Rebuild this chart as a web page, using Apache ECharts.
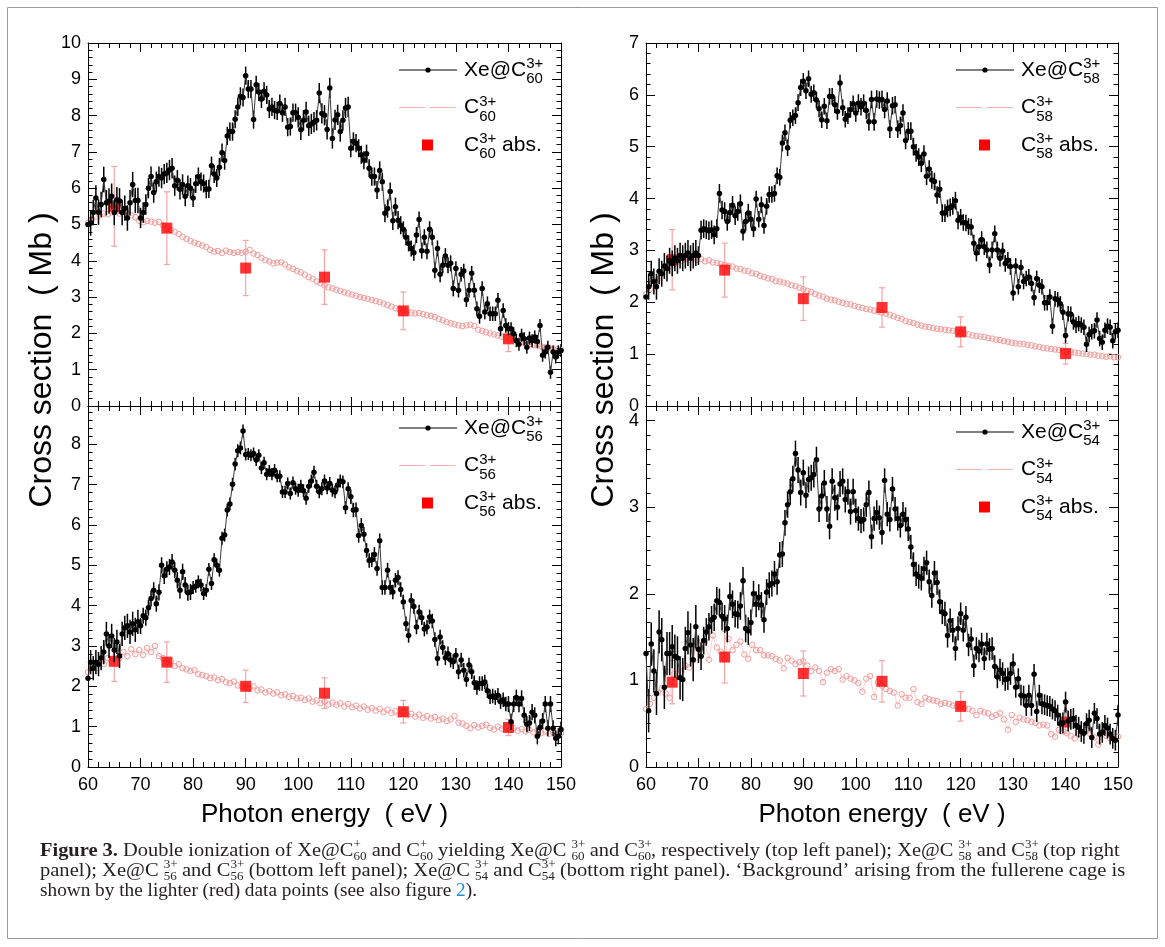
<!DOCTYPE html>
<html>
<head>
<meta charset="utf-8">
<title>Double ionization of Xe@C60</title>
<script src="https://cdn.jsdelivr.net/npm/echarts@6.0.0/dist/echarts.min.js"></script>
<style>
  html, body { margin: 0; padding: 0; background: #fff; }
  #chart { width: 1165px; height: 947px; }
</style>
</head>
<body>
<div id="chart"></div>
<script>
// photon energy grid (eV)
var E_MIN = 60;
var XE_STEP = 0.5;   // Xe@Cn 3+ points
var C_STEP = 0.75;   // empty cage (red circles)
var ERR_BIN = 10;    // error bars of the black points are given per 10 eV
var xTicks = [60, 70, 80, 90, 100, 110, 120, 130, 140, 150];
var absEnergy = [65, 75, 90, 105, 120, 140];

// ---- Xe@C60 3+ / C60 3+ (top left) ----
var xe60 = [
  5.0, 5.04, 5.33, 5.73, 5.34, 5.55, 6.24, 5.6, 5.65, 5.78,
  5.33, 5.68, 5.65, 5.33, 5.45, 5.18, 5.6, 6.1, 5.66, 5.66,
  5.18, 5.33, 5.55, 6.0, 6.32, 5.88, 6.18, 6.32, 6.28, 6.39,
  6.42, 6.5, 6.55, 6.07, 6.22, 5.97, 6.1, 5.78, 6.07, 6.0,
  5.73, 6.12, 6.32, 6.18, 6.13, 5.97, 5.98, 6.62, 6.39, 6.28,
  6.58, 6.98, 6.76, 7.44, 7.56, 7.56, 7.9, 8.24, 8.53, 8.5,
  9.1, 8.73, 8.73, 7.89, 8.85, 8.65, 8.46, 8.67, 8.57, 8.18,
  8.24, 8.15, 8.13, 8.33, 8.08, 8.24, 7.68, 7.7, 8.08, 8.08,
  7.95, 7.61, 7.87, 8.1, 7.72, 7.77, 7.82, 7.87, 8.62, 8.06,
  8.01, 7.62, 8.76, 7.37, 7.88, 8.02, 7.56, 7.87, 8.21, 8.24,
  7.1, 7.29, 7.24, 7.1, 6.92, 6.77, 6.95, 6.55, 6.32, 6.32,
  5.95, 6.49, 6.18, 5.31, 5.44, 5.91, 5.1, 5.49, 5.12, 4.98,
  4.87, 4.65, 4.48, 4.34, 4.22, 4.71, 5.14, 4.28, 4.65, 4.26,
  4.87, 4.65, 3.74, 4.34, 3.63, 3.88, 4.13, 3.88, 3.93, 3.24,
  3.79, 3.19, 3.63, 3.72, 2.93, 3.19, 3.66, 3.19, 2.68, 2.47,
  3.24, 2.59, 2.82, 2.54, 2.54, 2.54, 2.91, 2.13, 2.63, 2.22,
  2.13, 2.13, 1.99, 1.8, 1.7, 1.95, 1.85, 1.62, 1.87, 1.8,
  1.9, 1.78, 2.22, 1.4, 1.49, 1.62, 0.93, 1.49, 1.35, 1.49,
  1.53
];
var xe60Err = [0.35, 0.28, 0.25, 0.25, 0.28, 0.25, 0.22, 0.2, 0.18];
var c60 = [
  5.05, 5.15, 5.22, 5.25, 5.3, 5.28, 5.33, 5.35, 5.3, 5.34,
  5.28, 5.25, 5.2, 5.1, 5.06, 5.1, 5.08, 5.05, 5.07, 4.98,
  4.9, 4.85, 4.8, 4.74, 4.66, 4.6, 4.55, 4.5, 4.46, 4.42,
  4.38, 4.3, 4.25, 4.27, 4.22, 4.28, 4.24, 4.22, 4.24, 4.22,
  4.25, 4.3, 4.2, 4.16, 4.08, 4.02, 3.98, 3.93, 3.95, 3.96,
  3.9, 3.82, 3.78, 3.72, 3.68, 3.62, 3.55, 3.5, 3.43, 3.38,
  3.32, 3.27, 3.24, 3.2, 3.17, 3.13, 3.1, 3.07, 3.04, 3.0,
  2.98, 2.95, 2.92, 2.89, 2.86, 2.82, 2.78, 2.74, 2.69, 2.66,
  2.63, 2.6, 2.57, 2.55, 2.56, 2.53, 2.5, 2.48, 2.45, 2.4,
  2.36, 2.31, 2.28, 2.25, 2.22, 2.2, 2.22, 2.24, 2.2, 2.1,
  2.07, 2.03, 2.0, 1.97, 1.94, 1.91, 1.88, 1.85, 1.82, 1.79,
  1.76, 1.73, 1.7, 1.68, 1.66, 1.64, 1.62, 1.6, 1.58, 1.56,
  1.54
];
var c60Abs = [5.5, 4.9, 3.8, 3.55, 2.62, 1.85];
var c60AbsErr = [1.1, 1.0, 0.76, 0.75, 0.52, 0.35];

// ---- Xe@C58 3+ / C58 3+ (top right) ----
var xe58 = [
  2.1, 2.3, 2.55, 2.4, 2.3, 2.6, 2.55, 2.7, 2.65, 2.8,
  2.75, 2.85, 2.8, 2.9, 2.85, 2.9, 2.95, 2.85, 2.9, 2.95,
  2.9, 3.39, 3.42, 3.4, 3.38, 3.4, 3.3, 3.42, 4.1, 3.78,
  3.75, 3.56, 3.73, 3.87, 3.67, 3.75, 3.9, 3.37, 3.56, 3.72,
  3.6, 3.42, 3.99, 3.6, 3.88, 3.48, 3.85, 4.08, 4.08, 4.1,
  4.44, 4.41, 5.07, 5.27, 4.98, 5.51, 5.56, 5.6, 5.85, 6.14,
  6.26, 6.08, 6.31, 6.01, 6.04, 5.9, 5.73, 5.52, 5.78, 5.5,
  5.97, 5.97, 5.81, 5.68, 6.23, 5.75, 5.53, 5.6, 5.72, 5.83,
  5.65, 5.84, 5.77, 5.84, 5.7, 5.48, 5.91, 5.48, 5.92, 5.9,
  5.91, 5.72, 5.88, 5.34, 5.79, 5.81, 5.34, 5.41, 5.65, 5.12,
  5.3, 5.3, 5.0, 4.88, 4.8, 4.68, 4.86, 4.43, 4.57, 4.36,
  4.33, 4.07, 4.18, 3.72, 3.72, 3.81, 3.83, 3.86, 3.96, 3.58,
  3.64, 3.54, 3.53, 3.46, 3.45, 3.14, 2.95, 3.07, 3.21, 3.07,
  3.01, 2.72, 3.01, 3.32, 3.01, 2.85, 2.99, 2.75, 2.81, 2.69,
  2.18, 2.7, 2.3, 2.67, 2.4, 2.46, 2.49, 2.36, 2.09, 2.46,
  2.33, 2.3, 1.99, 1.99, 2.1, 1.54, 2.07, 2.05, 1.97, 1.81,
  1.36, 1.78, 1.77, 1.62, 1.56, 1.59, 1.56, 1.52, 1.19, 1.38,
  1.43, 1.45, 1.66, 1.3, 1.23, 1.46, 1.54, 1.52, 1.26, 1.43,
  1.46
];
var xe58Err = [0.25, 0.18, 0.16, 0.16, 0.17, 0.17, 0.16, 0.15, 0.15];
var c58 = [
  2.15, 2.25, 2.36, 2.44, 2.56, 2.6, 2.7, 2.72, 2.78, 2.8,
  2.83, 2.82, 2.85, 2.82, 2.83, 2.79, 2.81, 2.77, 2.76, 2.74,
  2.72, 2.7, 2.69, 2.65, 2.64, 2.61, 2.6, 2.56, 2.55, 2.51,
  2.49, 2.46, 2.45, 2.41, 2.4, 2.38, 2.36, 2.33, 2.31, 2.28,
  2.25, 2.22, 2.2, 2.16, 2.13, 2.11, 2.07, 2.05, 2.04, 2.01,
  1.99, 1.97, 1.96, 1.93, 1.91, 1.89, 1.87, 1.86, 1.84, 1.82,
  1.8, 1.78, 1.76, 1.73, 1.7, 1.68, 1.64, 1.62, 1.6, 1.57,
  1.55, 1.53, 1.52, 1.5, 1.49, 1.48, 1.47, 1.46, 1.45, 1.43,
  1.42, 1.4, 1.38, 1.36, 1.35, 1.34, 1.33, 1.31, 1.3, 1.28,
  1.27, 1.25, 1.24, 1.22, 1.21, 1.2, 1.2, 1.18, 1.17, 1.15,
  1.14, 1.12, 1.11, 1.1, 1.09, 1.08, 1.07, 1.05, 1.04, 1.03,
  1.02, 1.01, 1.0, 0.99, 0.99, 0.97, 0.96, 0.95, 0.96, 0.94,
  0.94
];
var c58Abs = [2.82, 2.62, 2.07, 1.9, 1.43, 1.01];
var c58AbsErr = [0.58, 0.52, 0.42, 0.38, 0.29, 0.2];

// ---- Xe@C56 3+ / C56 3+ (bottom left) ----
var xe56 = [
  2.2, 2.6, 2.45, 2.6, 2.55, 2.7, 2.85, 3.3, 3.0, 3.25,
  2.9, 3.1, 2.75, 3.3, 3.45, 3.5, 3.35, 3.55, 3.4, 3.6,
  3.5, 3.75, 3.7, 3.95, 4.18, 4.38, 4.05, 4.33, 5.0, 4.74,
  4.9, 4.96, 5.08, 4.88, 4.63, 4.38, 4.84, 4.51, 4.32, 4.34,
  4.45, 4.48, 4.59, 4.51, 4.3, 4.38, 4.9, 4.55, 5.14, 5.0,
  4.88, 5.67, 5.75, 6.37, 6.52, 7.01, 7.51, 7.84, 7.91, 8.33,
  7.75, 7.76, 7.73, 7.77, 7.61, 7.73, 7.41, 7.54, 7.26, 7.34,
  7.26, 7.36, 7.21, 7.21, 6.82, 6.82, 7.03, 6.78, 7.05, 6.9,
  6.86, 6.96, 6.85, 6.66, 6.96, 7.09, 7.31, 6.96, 6.82, 6.9,
  7.09, 6.92, 7.03, 6.86, 6.82, 6.99, 7.09, 7.07, 6.43, 6.9,
  6.7, 6.37, 6.38, 5.74, 5.99, 5.77, 5.37, 5.12, 5.14, 5.27,
  4.92, 5.61, 4.45, 4.45, 4.88, 4.45, 4.34, 4.63, 4.7, 4.4,
  4.09, 3.55, 3.26, 4.13, 3.98, 3.47, 3.84, 3.7, 3.42, 3.47,
  3.72, 3.62, 3.16, 2.69, 3.22, 2.96, 2.71, 2.81, 2.65, 2.61,
  2.77, 2.36, 2.65, 2.4, 2.17, 2.53, 2.36, 2.09, 1.97, 2.07,
  2.07, 2.11, 1.89, 1.74, 1.76, 1.72, 1.78, 1.62, 1.67, 1.56,
  1.56, 1.12, 1.56, 1.72, 1.56, 1.7, 1.28, 1.06, 1.09, 1.36,
  1.28, 0.76, 0.98, 1.14, 1.56, 0.96, 1.56, 0.96, 0.71, 0.76,
  0.93
];
var xe56Err = [0.3, 0.2, 0.16, 0.15, 0.16, 0.18, 0.18, 0.18, 0.2];
var c56 = [
  2.35, 2.5, 2.45, 2.6, 2.55, 2.7, 2.62, 2.78, 2.7, 2.85,
  2.75, 2.92, 2.8, 2.9, 2.78, 2.95, 2.85, 3.0, 2.75, 2.7,
  2.6, 2.62, 2.5, 2.55, 2.45, 2.42, 2.38, 2.4, 2.3, 2.28,
  2.25, 2.2, 2.22, 2.15, 2.18, 2.1, 2.08, 2.12, 2.02, 2.0,
  1.98, 1.95, 2.0, 1.9, 1.92, 1.85, 1.88, 1.82, 1.85, 1.78,
  1.8, 1.74, 1.76, 1.7, 1.72, 1.66, 1.7, 1.62, 1.65, 1.58,
  1.62, 1.55, 1.6, 1.54, 1.58, 1.5, 1.56, 1.48, 1.52, 1.45,
  1.5, 1.42, 1.46, 1.4, 1.44, 1.36, 1.42, 1.34, 1.38, 1.3,
  1.36, 1.28, 1.32, 1.25, 1.3, 1.22, 1.26, 1.2, 1.24, 1.16,
  1.2, 1.14, 1.18, 1.26, 1.1, 1.08, 1.02, 0.96, 1.04, 0.98,
  1.02, 1.05, 0.97, 0.93, 1.0, 0.95, 0.98, 0.92, 0.96, 0.9,
  0.94, 0.88, 0.92, 0.86, 0.9, 0.84, 0.88, 0.82, 0.86, 0.8,
  0.84
];
var c56Abs = [2.62, 2.6, 2.0, 1.83, 1.37, 0.98];
var c56AbsErr = [0.5, 0.5, 0.4, 0.38, 0.28, 0.2];

// ---- Xe@C54 3+ / C54 3+ (bottom right) ----
var xe54 = [
  1.31, 0.65, 1.42, 1.11, 0.85, 1.56, 1.47, 0.92, 1.31, 1.31,
  1.39, 1.28, 1.26, 1.03, 1.01, 1.37, 1.55, 1.41, 1.24, 1.62,
  1.36, 1.28, 1.46, 1.56, 1.62, 1.7, 1.73, 1.92, 1.9, 1.74,
  1.71, 1.6, 1.97, 1.88, 1.77, 1.76, 1.86, 2.15, 1.6, 1.57,
  1.67, 2.0, 1.88, 1.96, 1.87, 1.7, 2.02, 2.1, 2.12, 2.23,
  2.14, 2.45, 2.46, 2.82, 3.03, 3.18, 3.33, 3.62, 3.43, 3.17,
  3.4, 3.14, 3.32, 3.34, 3.38, 3.55, 2.98, 3.13, 3.28, 2.98,
  2.78, 3.3, 3.11, 3.0, 3.27, 3.3, 3.09, 3.18, 2.95, 3.18,
  2.96, 2.87, 2.84, 2.86, 3.03, 3.17, 2.66, 2.87, 2.94, 2.88,
  2.71, 3.31, 2.92, 2.86, 3.21, 2.98, 2.87, 2.79, 2.92, 2.86,
  2.75, 2.54, 2.34, 2.23, 2.2, 2.18, 2.29, 2.36, 2.14, 1.98,
  2.24, 2.13, 1.91, 1.79, 1.77, 1.52, 1.69, 1.58, 1.37, 1.6,
  1.77, 1.58, 1.73, 1.41, 1.48, 1.17, 1.37, 1.34, 1.42, 1.25,
  1.42, 1.36, 1.37, 1.16, 1.04, 1.12, 1.08, 1.01, 1.02, 1.08,
  1.19, 0.92, 1.02, 0.83, 0.82, 0.71, 0.83, 0.71, 1.07, 0.64,
  0.83, 0.73, 0.72, 0.71, 0.7, 0.67, 0.65, 0.6, 0.5, 0.51,
  0.75, 0.53, 0.55, 0.56, 0.48, 0.46, 0.41, 0.39, 0.5, 0.54,
  0.34, 0.62, 0.56, 0.38, 0.4, 0.48, 0.45, 0.38, 0.33, 0.31,
  0.6
];
var xe54Err = [0.25, 0.16, 0.15, 0.15, 0.14, 0.14, 0.13, 0.12, 0.12];
var c54 = [
  0.67, 0.73, 0.8, 0.86, 0.91, 0.85, 0.8, 1.07, 1.08, 1.1,
  1.17, 1.15, 1.23, 1.45, 1.37, 1.45, 1.24, 1.52, 1.38, 1.33,
  1.25, 1.48, 1.35, 1.41, 1.45, 1.3, 1.25, 1.41, 1.35, 1.35,
  1.29, 1.29, 1.28, 1.25, 1.23, 1.14, 1.26, 1.23, 1.19, 1.21,
  1.22, 1.17, 1.11, 1.15, 1.11, 0.98, 1.09, 1.13, 1.11, 1.13,
  1.01, 1.05, 1.02, 1.0, 0.97, 0.87, 1.02, 1.05, 0.81, 0.98,
  0.94, 0.9, 0.88, 0.86, 0.71, 0.84, 0.8, 0.8, 0.9, 0.75,
  0.73, 0.8, 0.78, 0.77, 0.76, 0.73, 0.74, 0.73, 0.71, 0.7,
  0.69, 0.68, 0.67, 0.65, 0.6, 0.65, 0.63, 0.62, 0.58, 0.6,
  0.62, 0.55, 0.43, 0.6, 0.52, 0.57, 0.55, 0.54, 0.52, 0.51,
  0.48, 0.49, 0.48, 0.38, 0.35, 0.43, 0.41, 0.39, 0.36, 0.33,
  0.38, 0.4, 0.43, 0.38, 0.34, 0.26, 0.38, 0.36, 0.33, 0.34,
  0.35
];
var c54Abs = [0.98, 1.27, 1.08, 0.99, 0.7, 0.52];
var c54AbsErr = [0.25, 0.3, 0.26, 0.24, 0.17, 0.13];

// ---- layout of the four panels ----
var panels = [
  { n: '60', xe: xe60, xeErr: xe60Err, c: c60, abs: c60Abs, absErr: c60AbsErr,
    yMax: 10, minor: 5, left: 88, top: 43, width: 473, height: 363, xLabels: false, legendY: 70, labelLift: 0 },
  { n: '58', xe: xe58, xeErr: xe58Err, c: c58, abs: c58Abs, absErr: c58AbsErr,
    yMax: 7, minor: 5, left: 646, top: 43, width: 472, height: 363, xLabels: false, legendY: 70, labelLift: 0 },
  { n: '56', xe: xe56, xeErr: xe56Err, c: c56, abs: c56Abs, absErr: c56AbsErr,
    yMax: 8.95, minor: 5, left: 88, top: 406, width: 473, height: 361, xLabels: true, legendY: 428, labelLift: 5 },
  { n: '54', xe: xe54, xeErr: xe54Err, c: c54, abs: c54Abs, absErr: c54AbsErr,
    yMax: 4.17, minor: 6, left: 646, top: 406, width: 472, height: 361, xLabels: true, legendY: 432, labelLift: 0 }
];

var SANS = '"Liberation Sans", Arial, sans-serif';
var SERIF = '"Liberation Serif", "Times New Roman", serif';

function xAxisFor(k, p, pos) {
  return {
    gridIndex: k, type: 'value', position: pos,
    min: xTicks[0], max: xTicks[xTicks.length - 1], interval: xTicks[1] - xTicks[0],
    axisLine: { onZero: false, lineStyle: { color: '#000', width: 1 } },
    axisTick: { inside: true, length: 9, lineStyle: { color: '#000', width: 1 } },
    minorTick: { show: true, splitNumber: 5, length: 5, lineStyle: { color: '#000', width: 1 } },
    axisLabel: { show: pos === 'bottom' && p.xLabels, color: '#000', fontSize: 18, fontFamily: SANS, margin: 9 },
    splitLine: { show: false }, minorSplitLine: { show: false }
  };
}
function yAxisFor(k, p, pos) {
  return {
    gridIndex: k, type: 'value', position: pos, min: 0, max: p.yMax, interval: 1,
    axisLine: { onZero: false, lineStyle: { color: '#000', width: 1 } },
    axisTick: { inside: true, length: 9, lineStyle: { color: '#000', width: 1 } },
    minorTick: { show: true, splitNumber: p.minor, length: 4.5, lineStyle: { color: '#000', width: 1 } },
    axisLabel: { show: pos === 'left', color: '#000', fontSize: 18, fontFamily: SANS, margin: 7,
                 padding: [0, 0, 2 * p.labelLift, 0], showMaxLabel: p.yMax % 1 === 0 },
    splitLine: { show: false }, minorSplitLine: { show: false }
  };
}

function errorBars(data, ax, color, width, cap, z) {
  return {
    type: 'custom', xAxisIndex: ax, yAxisIndex: ax, data: data, z: z, silent: true, clip: true,
    encode: { x: 0, y: 1 },
    renderItem: function (params, api) {
      var x = api.value(0), y = api.value(1), e = api.value(2);
      var lo = api.coord([x, y - e]), hi = api.coord([x, y + e]);
      var st = { stroke: color, lineWidth: width };
      var kids = [{ type: 'line', shape: { x1: lo[0], y1: lo[1], x2: hi[0], y2: hi[1] }, style: st }];
      if (cap) {
        kids.push({ type: 'line', shape: { x1: lo[0] - cap, y1: lo[1], x2: lo[0] + cap, y2: lo[1] }, style: st });
        kids.push({ type: 'line', shape: { x1: hi[0] - cap, y1: hi[1], x2: hi[0] + cap, y2: hi[1] }, style: st });
      }
      return { type: 'group', children: kids };
    }
  };
}

var grids = [], xAxes = [], yAxes = [], series = [];
panels.forEach(function (p, k) {
  grids.push({ left: p.left, top: p.top, width: p.width, height: p.height,
               containLabel: false, outerBoundsMode: 'none', show: false });
  xAxes.push(xAxisFor(k, p, 'bottom'), xAxisFor(k, p, 'top'));
  yAxes.push(yAxisFor(k, p, 'left'), yAxisFor(k, p, 'right'));
  var ax = 2 * k;

  var cData = p.c.map(function (v, i) { return [E_MIN + i * C_STEP, v]; });
  var absData = p.abs.map(function (v, i) { return [absEnergy[i], v, p.absErr[i]]; });
  var xeData = p.xe.map(function (v, i) {
    var e = E_MIN + i * XE_STEP;
    var bin = Math.min(p.xeErr.length - 1, Math.floor((e - E_MIN) / ERR_BIN));
    return [e, v, p.xeErr[bin]];
  });

  series.push({
    type: 'line', xAxisIndex: ax, yAxisIndex: ax, data: cData, z: 2, silent: true,
    symbol: 'circle', symbolSize: 5.5, showSymbol: true, showAllSymbol: true,
    itemStyle: { color: 'rgba(255,255,255,0)', borderColor: '#f39a9a', borderWidth: 1 },
    lineStyle: { color: '#fbd2d2', width: 1 }
  });
  series.push(errorBars(absData, ax, '#f5a4a4', 1.2, 3, 3));
  series.push({
    type: 'scatter', xAxisIndex: ax, yAxisIndex: ax, data: absData, z: 3, silent: true,
    symbol: 'rect', symbolSize: 11, itemStyle: { color: '#ff0000' }
  });
  series.push(errorBars(xeData, ax, '#000', 1.5, 0, 4));
  series.push({
    type: 'line', xAxisIndex: ax, yAxisIndex: ax, data: xeData, z: 5, silent: true,
    symbol: 'circle', symbolSize: 5.5, showSymbol: true, showAllSymbol: true,
    itemStyle: { color: '#000' }, lineStyle: { color: '#3a3a3a', width: 1 }
  });
});

// ---- legends, titles and caption ----
var ctx = document.createElement('canvas').getContext('2d');
function measure(str, font) { ctx.font = font; return ctx.measureText(str).width; }
var LEG_FONT = '21px ' + SANS, SCRIPT_FONT = '15px ' + SANS;

function scripted(x, y, base, sup, sub, tail) {
  var els = [{ type: 'text', x: x, y: y, z: 100, style: { text: base, font: LEG_FONT, fill: '#000', verticalAlign: 'middle' } }];
  var xs = x + measure(base, LEG_FONT);
  els.push({ type: 'text', x: xs, y: y - 6, z: 100, style: { text: sup, font: SCRIPT_FONT, fill: '#000', verticalAlign: 'middle' } });
  els.push({ type: 'text', x: xs, y: y + 9, z: 100, style: { text: sub, font: SCRIPT_FONT, fill: '#000', verticalAlign: 'middle' } });
  if (tail) {
    var xt = xs + Math.max(measure(sup, SCRIPT_FONT), measure(sub, SCRIPT_FONT));
    els.push({ type: 'text', x: xt, y: y, z: 100, style: { text: tail, font: LEG_FONT, fill: '#000', verticalAlign: 'middle' } });
  }
  return els;
}

var g = [];
g.push({ type: 'rect', shape: { x: 7.5, y: 7.5, width: 1150, height: 931 }, z: 0,
         style: { fill: 'none', stroke: '#9c9c9c', lineWidth: 1 } });

panels.forEach(function (p) {
  var R = p.left + p.width, y1 = p.legendY, y2 = y1 + 37.5, y3 = y1 + 75;
  g.push({ type: 'line', z: 100, shape: { x1: R - 162, y1: y1, x2: R - 104, y2: y1 }, style: { stroke: '#000', lineWidth: 1 } });
  g.push({ type: 'circle', z: 100, shape: { cx: R - 133, cy: y1, r: 2.6 }, style: { fill: '#000' } });
  g.push({ type: 'line', z: 100, shape: { x1: R - 162, y1: y2, x2: R - 104, y2: y2 }, style: { stroke: '#f4b4b4', lineWidth: 1, lineDash: [26, 5] } });
  g.push({ type: 'rect', z: 100, shape: { x: R - 139, y: y3 - 5.5, width: 11, height: 11 }, style: { fill: '#ff0000' } });
  g = g.concat(scripted(R - 97, y1, 'Xe@C', '3+', p.n));
  g = g.concat(scripted(R - 97, y2, 'C', '3+', p.n));
  g = g.concat(scripted(R - 97, y3, 'C', '3+', p.n, ' abs.'));
});

var yTitleFont = '32px ' + SANS, xTitleFont = '26px ' + SANS;
[42, 604].forEach(function (x) {
  g.push({ type: 'text', x: x, y: 360, rotation: Math.PI / 2, z: 100,
           style: { text: 'Cross section  ( Mb )', font: yTitleFont, fill: '#000', align: 'center', verticalAlign: 'middle' } });
});
[324.5, 882].forEach(function (x) {
  g.push({ type: 'text', x: x, y: 815, z: 100,
           style: { text: 'Photon energy  ( eV )', font: xTitleFont, fill: '#000', align: 'center', verticalAlign: 'middle' } });
});

var capRich = {
  b: { fontFamily: SERIF, fontSize: 18, fontWeight: 'bold', lineHeight: 24, fill: '#231f20' },
  u: { fontFamily: SERIF, fontSize: 11.5, lineHeight: 12, verticalAlign: 'top', width: 0.01, fill: '#231f20' },
  d: { fontFamily: SERIF, fontSize: 11.5, lineHeight: 12, verticalAlign: 'bottom', fill: '#231f20' },
  l: { fontFamily: SERIF, fontSize: 18, lineHeight: 24, fill: '#1e8fd0' }
};
var capLines = [
  '{b|Figure 3.} Double ionization of Xe@C{u|+}{d|60} and C{u|+}{d|60} yielding Xe@C {u|3+}{d|60} and C{u|3+}{d|60}, respectively (top left panel); Xe@C {u|3+}{d|58} and C{u|3+}{d|58} (top right',
  'panel); Xe@C {u|3+}{d|56} and C{u|3+}{d|56} (bottom left panel); Xe@C {u|3+}{d|54} and C{u|3+}{d|54} (bottom right panel). \u2018Background\u2019 arising from the fullerene cage is',
  'shown by the lighter (red) data points (see also figure {l|2}).'
];
var capScale = [1.135, 1.14, 1.07];
capLines.forEach(function (t, i) {
  g.push({ type: 'text', x: 40, y: 851 + i * 20, z: 100, scaleX: capScale[i],
           style: { text: t, fontFamily: SERIF, fontSize: 18, lineHeight: 24, fill: '#231f20',
                    verticalAlign: 'middle', rich: capRich } });
});

var chart = echarts.init(document.getElementById('chart'), null, { renderer: 'canvas' });
chart.setOption({
  animation: false,
  backgroundColor: '#fff',
  grid: grids,
  xAxis: xAxes,
  yAxis: yAxes,
  series: series,
  graphic: { elements: g }
});
</script>
</body>
</html>
